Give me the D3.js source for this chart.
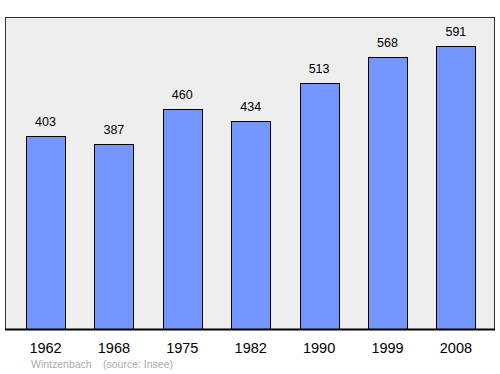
<!DOCTYPE html>
<html><head><meta charset="utf-8">
<script src="https://cdn.jsdelivr.net/npm/d3@7"></script>
<style>body{margin:0;background:#fff}svg{display:block;font-family:"Liberation Sans",Arial,sans-serif}</style>
</head><body>
<script>
const years = ["1962","1968","1975","1982","1990","1999","2008"];
const population = [403,387,460,434,513,568,591];
const sourceParts = ["Wintzenbach","(source: Insee)"];

const W=500,H=374;
const svg=d3.select("body").append("svg").attr("width",W).attr("height",H);
const plot={l:5.5,t:17.5,r:494.5,b:329.5};
svg.append("rect").attr("x",plot.l).attr("y",plot.t).attr("width",plot.r-plot.l).attr("height",plot.b-plot.t)
  .attr("fill","#eeeeee").attr("stroke","#333").attr("stroke-width",1);

const x=d3.scaleBand().domain(years).range([11.3,490.1]).paddingInner(0.43).paddingOuter(0.215);
const y=d3.scaleLinear().domain([0,650]).range([plot.b,plot.t]);

svg.selectAll("rect.bar").data(population).join("rect").attr("class","bar")
  .attr("x",(d,i)=>Math.round(x(years[i]))+0.5).attr("y",d=>Math.round(y(d))+0.5)
  .attr("width",Math.round(x.bandwidth())).attr("height",d=>plot.b-Math.round(y(d))-0.5)
  .attr("fill","#7396ff").attr("stroke","#000").attr("stroke-width",1);

svg.selectAll("text.val").data(population).join("text").attr("class","val")
  .attr("x",(d,i)=>x(years[i])+x.bandwidth()/2).attr("y",d=>y(d)-10)
  .attr("text-anchor","middle").attr("font-size",12.5).attr("fill","#000").text(d=>d);

svg.append("line").attr("x1",plot.l-0.5).attr("x2",plot.r+0.5).attr("y1",plot.b).attr("y2",plot.b)
  .attr("stroke","#000").attr("stroke-width",2);

const ax=d3.axisBottom(x).tickSize(0).tickPadding(0);
const g=svg.append("g").attr("transform",`translate(0,${plot.b})`).call(ax);
g.select(".domain").remove();
g.selectAll("text").attr("font-size",14.5).attr("fill","#000").attr("dy",null).attr("y",23)
  .attr("font-family","Liberation Sans,Arial,sans-serif");

svg.append("text").attr("x",31).attr("y",368).attr("font-size",10.5).attr("fill","#aaa").text(sourceParts[0]);
svg.append("text").attr("x",103).attr("y",368).attr("font-size",10.5).attr("fill","#aaa").text(sourceParts[1]);
</script>
</body></html>
